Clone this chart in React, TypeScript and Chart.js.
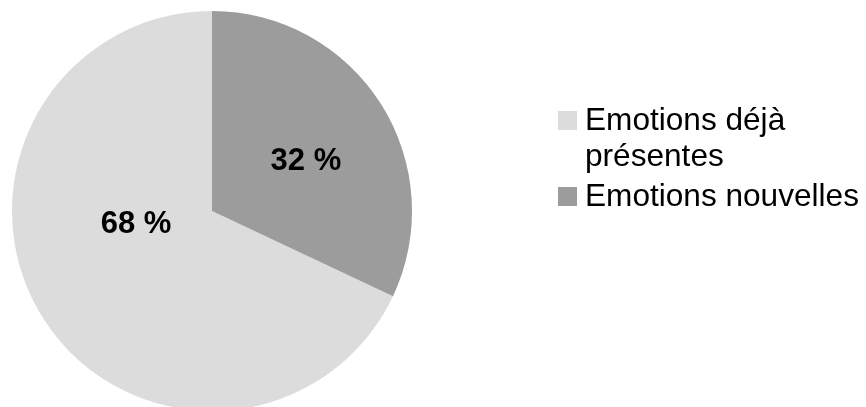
import React, { useEffect, useRef } from "react";
import { Chart, registerables } from "chart.js";

Chart.register(...registerables);

const categories = ["Emotions déjà présentes", "Emotions nouvelles"];
const values = [68, 32];
const valueLabels = ["68 %", "32 %"];
const legendLines = [["Emotions déjà", "présentes"], ["Emotions nouvelles"]];
const colors = ["#dcdcdc", "#9c9c9c"];

const FONT = "'Liberation Sans', Arial, sans-serif";

const labelPlugin = {
  id: "sliceLabels",
  afterDatasetsDraw(chart: any) {
    const ctx = chart.ctx;
    const meta = chart.getDatasetMeta(0);
    const dist = [0.385, 0.532];
    const shift = [22.7, 4.4];
    ctx.save();
    ctx.font = `bold 31px ${FONT}`;
    ctx.fillStyle = "#000";
    ctx.textAlign = "center";
    ctx.textBaseline = "middle";
    meta.data.forEach((arc: any, i: number) => {
      const { x, y, startAngle, endAngle, outerRadius } = arc.getProps(
        ["x", "y", "startAngle", "endAngle", "outerRadius"],
        true
      );
      const a = (startAngle + endAngle) / 2 + (shift[i] * Math.PI) / 180;
      const d = outerRadius * dist[i];
      ctx.fillText(valueLabels[i], x + Math.cos(a) * d, y + Math.sin(a) * d);
    });
    ctx.restore();
  },
};

const legendPlugin = {
  id: "sideLegend",
  afterDraw(chart: any) {
    const ctx = chart.ctx;
    const boxX = 558;
    const textX = 585;
    const box = 19;
    const firstBaselines = [130, 206];
    const lineGap = 36;
    ctx.save();
    ctx.font = `31.6px ${FONT}`;
    ctx.textAlign = "left";
    ctx.textBaseline = "alphabetic";
    categories.forEach((_, i) => {
      const base = firstBaselines[i];
      ctx.fillStyle = colors[i];
      ctx.fillRect(boxX, base - box, box, box);
      ctx.fillStyle = "#000";
      legendLines[i].forEach((line, j) => {
        ctx.fillText(line, textX, base + j * lineGap);
      });
    });
    ctx.restore();
  },
};

export default function App() {
  const ref = useRef<HTMLCanvasElement>(null);
  useEffect(() => {
    document.body.style.margin = "0";
    document.body.style.overflow = "hidden";
    const total = values.reduce((s, v) => s + v, 0);
    const chart = new Chart(ref.current!, {
      type: "pie",
      data: {
        labels: categories,
        datasets: [
          {
            data: values,
            backgroundColor: colors,
            borderWidth: 0,
          },
        ],
      },
      options: {
        responsive: false,
        animation: false,
        rotation: (values[1] / total) * 360,
        layout: { padding: { left: 12, right: 454, top: 11, bottom: 11 } },
        plugins: {
          legend: { display: false },
          tooltip: { enabled: false },
        },
      },
      plugins: [labelPlugin, legendPlugin],
    });
    return () => chart.destroy();
  }, []);
  return (
    <div style={{ position: "fixed", left: 0, top: 0, width: 866, height: 407, overflow: "hidden", background: "#fff" }}>
      <canvas ref={ref} width={866} height={422} style={{ width: 866, height: 422, display: "block" }} />
    </div>
  );
}
